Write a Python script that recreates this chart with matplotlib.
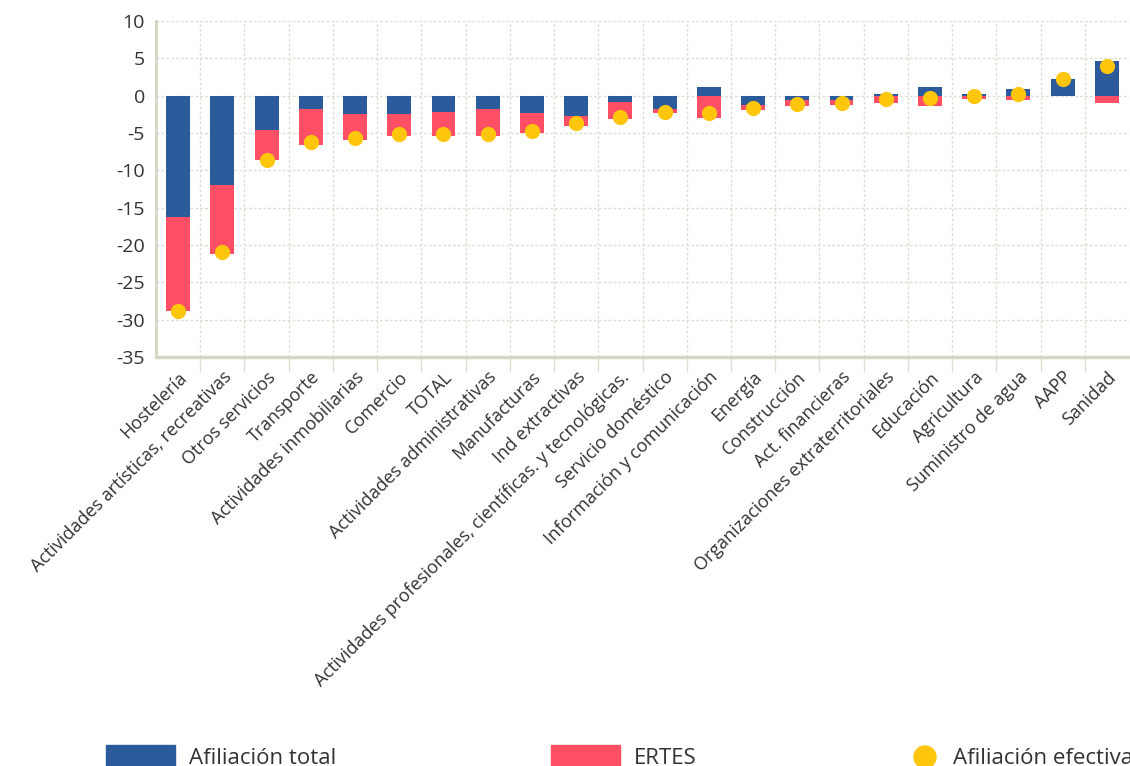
import matplotlib
matplotlib.use("Agg")
import matplotlib.pyplot as plt
import numpy as np
from matplotlib.patches import Rectangle, Ellipse

plt.rcParams['font.family'] = ['Open Sans', 'DejaVu Sans']

sectores = [
    "Hostelería", "Actividades artísticas, recreativas", "Otros servicios",
    "Transporte", "Actividades inmobiliarias", "Comercio", "TOTAL",
    "Actividades administrativas", "Manufacturas", "Ind extractivas",
    "Actividades profesionales, científicas. y tecnológicas.",
    "Servicio doméstico", "Información y comunicación", "Energía",
    "Construcción", "Act. financieras", "Organizaciones extraterritoriales",
    "Educación", "Agricultura", "Suministro de agua", "AAPP", "Sanidad",
]

afiliacion_total = [-16.2, -11.9, -4.6, -1.8, -2.4, -2.4, -2.2, -1.8, -2.3, -2.7,
                    -0.85, -1.8, 1.1, -1.2, -0.6, -0.6, 0.27, 1.1, 0.27, 0.83, 2.2, 4.6]

ertes = [-12.7, -9.3, -4.0, -4.8, -3.6, -3.0, -3.2, -3.6, -2.7, -1.3,
         -2.25, -0.5, -3.0, -0.75, -0.75, -0.6, -0.94, -1.43, -0.45, -0.57, 0.0, -0.94]

afiliacion_efectiva = [-28.8, -21.0, -8.6, -6.2, -5.65, -5.1, -5.15, -5.1, -4.7, -3.7,
                       -2.8, -2.2, -2.3, -1.6, -1.13, -0.94, -0.4, -0.37, -0.08, 0.23, 2.2, 4.0]

y_ticks = [10, 5, 0, -5, -10, -15, -20, -25, -30, -35]

AZUL = "#2c5b9b"
ROJO = "#ff4f64"
AMARILLO = "#ffc60b"
EJE = "#d5d7c4"
REJILLA = "#dedfd2"
TEXTO = "#333333"

W, H = 1130, 766
fig = plt.figure(figsize=(W / 100, H / 100), dpi=100)
ax = fig.add_axes([156 / W, 1 - 357 / H, (1129 - 156) / W, (357 - 21) / H])

x = np.arange(len(sectores))
total = np.array(afiliacion_total)
erte = np.array(ertes)
base_ertes = np.minimum(total, 0)

ax.bar(x, total, width=0.54, color=AZUL, zorder=3)
ax.bar(x, erte, bottom=base_ertes, width=0.54, color=ROJO, zorder=3)
ax.scatter(x, afiliacion_efectiva, s=120, color=AMARILLO, zorder=4, linewidths=0)

ax.set_xlim(-0.5, len(sectores) - 0.5)
ax.set_ylim(-35, 10)
ax.set_yticks(y_ticks)
ax.set_yticklabels([str(v) for v in y_ticks], fontsize=14, color=TEXTO)

ax.set_xticks(x)
ax.set_xticklabels(sectores, rotation=45, ha="right", va="top",
                   rotation_mode="anchor", fontsize=13, color=TEXTO)
ax.tick_params(axis="x", which="major", length=0, pad=8)
ax.set_xticks(np.arange(0.5, len(sectores) - 0.5, 1), minor=True)
ax.tick_params(axis="x", which="minor", length=11, width=1, color=REJILLA)
ax.tick_params(axis="y", length=0, pad=8)

ax.grid(True, axis="y", which="major", color=REJILLA, linestyle=(0, (2, 1.5)), linewidth=1, zorder=0)
ax.grid(True, axis="x", which="minor", color=REJILLA, linestyle=(0, (2, 1.5)), linewidth=1, zorder=0)

for lado in ("top", "right"):
    ax.spines[lado].set_visible(False)
ax.spines["left"].set_color(EJE)
ax.spines["left"].set_linewidth(2)
ax.spines["bottom"].set_color(EJE)
ax.spines["bottom"].set_linewidth(2.5)

# Leyenda en la parte inferior
def fx(px):
    return px / W

def fy(py):
    return 1 - py / H

fig.add_artist(Rectangle((fx(106), fy(770)), fx(175) - fx(106), fy(745) - fy(770),
                         transform=fig.transFigure, color=AZUL))
fig.text(fx(189), fy(764), "Afiliación total", fontsize=16, color=TEXTO, va="baseline")
fig.add_artist(Rectangle((fx(551), fy(770)), fx(620) - fx(551), fy(745) - fy(770),
                         transform=fig.transFigure, color=ROJO))
fig.text(fx(634), fy(764), "ERTES", fontsize=16, color=TEXTO, va="baseline")
fig.add_artist(Ellipse((fx(925), fy(757)), fx(22), 22 / H,
                       transform=fig.transFigure, color=AMARILLO))
fig.text(fx(953), fy(764), "Afiliación efectiva", fontsize=16, color=TEXTO, va="baseline")

fig.savefig("out.png", dpi=100)
